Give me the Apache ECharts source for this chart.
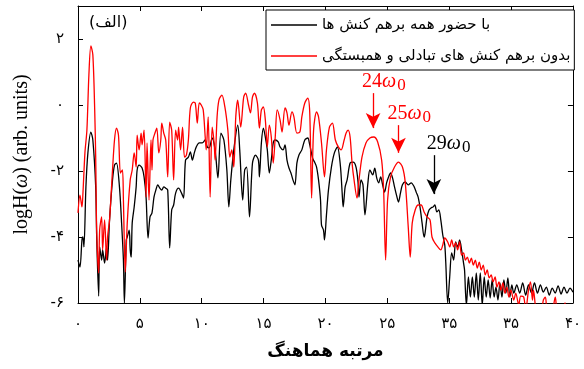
<!DOCTYPE html>
<html>
<head>
<meta charset="UTF-8">
<title></title>
<style>
html, body { margin: 0; padding: 0; background: #fff; }
#main { width: 584px; height: 369px; }
</style>
</head>
<body>
<div id="main"></div>
<script src="https://cdn.jsdelivr.net/npm/echarts@6/dist/echarts.min.js"></script>
<script>
// tick labels (Persian digits as in the figure)
var xTickLabels = ['۰', '۵', '۱۰', '۱۵', '۲۰', '۲۵', '۳۵', '۳۵', '۴۰'];
var yTickLabels = ['-۶', '-۴', '-۲', '۰', '۲'];
var legendNames = ['با حضور همه برهم کنش ها', 'بدون برهم کنش های تبادلی و همبستگی'];

// black curve: with all interactions
var blackData = [
  [0, -4.70], [0.16, -4.91], [0.32, -4.09], [0.40, -4.00], [0.48, -4.30], [0.64, -2.48], [0.80, -1.45],
  [1.04, -0.82], [1.20, -1.06], [1.43, -2.48], [1.51, -4.00], [1.67, -5.79], [1.75, -4.30], [1.91, -4.70],
  [1.99, -4.39], [2.15, -4.79], [2.31, -4.30], [2.39, -4.70], [2.55, -3.48], [2.79, -2.27], [2.95, -1.82],
  [3.11, -1.76], [3.35, -2.48], [3.51, -3.48], [3.67, -4.70], [3.75, -6.00], [3.90, -4.09], [3.98, -4.00],
  [4.14, -3.79], [4.22, -4.39], [4.30, -4.61], [4.38, -3.58], [4.54, -3.09], [4.70, -2.48], [4.78, -1.97],
  [4.94, -1.82], [5.18, -1.91], [5.34, -2.18], [5.50, -2.79], [5.66, -4.03], [5.82, -3.39], [5.98, -3.27],
  [6.14, -2.79], [6.29, -2.58], [6.45, -2.42], [6.61, -2.52], [6.77, -2.58], [6.93, -2.48], [7.09, -2.52],
  [7.25, -2.58], [7.41, -4.33], [7.57, -3.18], [7.73, -3.03], [7.89, -2.67], [8.13, -2.52], [8.37, -2.67],
  [8.53, -2.82], [8.69, -1.67], [8.92, -1.58], [9.08, -1.42], [9.24, -1.67], [9.40, -1.45], [9.56, -1.27],
  [9.80, -1.15], [10.04, -1.15], [10.28, -1.06], [10.44, -1.27], [10.60, -1.30], [10.84, -1.00], [11.08, -1.36],
  [11.31, -2.21], [11.55, -0.85], [11.79, -1.06], [12.03, -1.97], [12.19, -3.09], [12.35, -2.27], [12.59, -1.36],
  [12.91, -0.61], [13.07, -1.36], [13.31, -2.88], [13.47, -1.97], [13.63, -1.88], [13.86, -3.39], [14.10, -1.76],
  [14.34, -1.52], [14.58, -1.67], [14.66, -2.18], [14.82, -1.15], [14.98, -0.70], [15.14, -0.97], [15.30, -1.36],
  [15.46, -2.06], [15.62, -1.67], [15.78, -1.15], [15.94, -1.06], [16.18, -1.12], [16.33, -1.27], [16.57, -1.36],
  [16.73, -1.21], [16.89, -1.67], [17.05, -1.91], [17.21, -2.06], [17.37, -2.27], [17.53, -2.42], [17.69, -1.76],
  [17.85, -1.52], [18.09, -1.36], [18.33, -1.06], [18.57, -1.00], [18.73, -1.21], [18.96, -1.61], [19.12, -1.73],
  [19.28, -1.88], [19.44, -2.27], [19.60, -2.88], [19.68, -3.64], [19.84, -3.79], [19.92, -4.09], [20.08, -3.33],
  [20.24, -2.58], [20.48, -1.88], [20.72, -1.45], [20.96, -1.27], [21.20, -1.82], [21.35, -2.67], [21.43, -3.09],
  [21.59, -2.48], [21.75, -2.27], [21.99, -1.76], [22.23, -1.73], [22.47, -1.88], [22.63, -2.33], [22.71, -2.79],
  [22.87, -2.27], [23.03, -2.42], [23.19, -3.33], [23.43, -2.36], [23.59, -1.97], [23.82, -2.12], [23.98, -1.91],
  [24.14, -2.21], [24.30, -2.36], [24.46, -2.18], [24.62, -2.42], [24.78, -2.64], [24.94, -2.36], [25.10, -2.18],
  [25.26, -2.06], [25.42, -2.21], [25.58, -2.48], [25.74, -2.73], [25.90, -2.94], [26.06, -2.67], [26.22, -2.42],
  [26.45, -2.33], [26.69, -2.42], [26.93, -2.36], [27.17, -2.48], [27.33, -2.64], [27.49, -2.79], [27.65, -3.12],
  [27.81, -3.58], [27.97, -4.00], [28.05, -3.88], [28.21, -3.39], [28.37, -3.18], [28.53, -3.12], [28.69, -3.09],
  [28.84, -3.03], [29.00, -3.24], [29.16, -3.18], [29.32, -3.48], [29.48, -3.94], [29.64, -4.24], [29.72, -4.76],
  [29.88, -6.00], [30.04, -5.21], [30.20, -4.48], [30.36, -4.70], [30.52, -4.15], [30.68, -4.30], [30.84, -4.09],
  [31.00, -4.39], [31.16, -4.79], [31.24, -5.00], [31.31, -5.61], [31.39, -6.06], [31.55, -5.21], [31.71, -5.82],
  [31.87, -5.21], [32.03, -5.82], [32.19, -5.09], [32.35, -5.91], [32.51, -5.09], [32.67, -6.06], [32.83, -5.21],
  [32.99, -5.82], [33.15, -5.30], [33.31, -5.85], [33.47, -5.30], [33.63, -5.82], [33.78, -5.52], [33.94, -5.91],
  [34.10, -5.39], [34.26, -5.82], [34.42, -5.30], [34.58, -5.70], [34.74, -5.24], [34.90, -5.82], [35.06, -5.45],
  [35.22, -5.70], [35.46, -5.45], [35.70, -5.70], [35.94, -5.39], [36.18, -5.76], [36.41, -5.45], [36.65, -5.70],
  [36.89, -5.39], [37.13, -5.70], [37.37, -5.45], [37.61, -5.67], [37.85, -5.52], [38.09, -5.76], [38.33, -5.55],
  [38.57, -5.70], [38.80, -5.48], [39.04, -5.73], [39.28, -5.52], [39.52, -5.70], [39.76, -5.55], [40.00, -5.67]
];

// red curve: without exchange and correlation interactions
var redData = [
  [0, -3.27], [0.16, -2.73], [0.32, -3.09], [0.40, -2.67], [0.56, -1.45], [0.72, -0.76], [0.88, 0.91],
  [1.04, 1.79], [1.20, 1.52], [1.35, -0.15], [1.43, -1.58], [1.51, -3.79], [1.67, -5.09], [1.75, -3.79],
  [1.91, -3.39], [1.99, -4.39], [2.15, -3.48], [2.31, -4.70], [2.39, -4.00], [2.55, -3.48], [2.79, -1.97],
  [2.95, -1.06], [3.11, -0.70], [3.27, -0.91], [3.43, -2.06], [3.59, -1.97], [3.67, -2.88], [3.82, -5.06],
  [3.98, -3.58], [4.22, -2.27], [4.38, -1.97], [4.54, -1.45], [4.70, -1.88], [4.78, -0.91], [4.94, -1.36],
  [5.10, -0.85], [5.18, -1.21], [5.34, -0.76], [5.50, -2.79], [5.58, -1.15], [5.74, -2.88], [5.90, -1.06],
  [5.98, -1.97], [6.06, -1.06], [6.22, -0.85], [6.37, -0.70], [6.53, -1.45], [6.69, -1.06], [6.77, -0.55],
  [6.93, -0.85], [7.09, -1.06], [7.25, -2.18], [7.41, -0.52], [7.57, -0.76], [7.73, -2.27], [7.89, -0.76],
  [8.05, -1.06], [8.13, -0.67], [8.29, -1.36], [8.45, -0.67], [8.61, -1.58], [8.76, -1.52], [8.92, -1.06],
  [9.08, -0.09], [9.32, 0.09], [9.48, 0.06], [9.64, -0.55], [9.80, 0.06], [9.96, 0.00], [10.12, -0.15],
  [10.28, -0.97], [10.36, -1.36], [10.52, -0.36], [10.68, -2.79], [10.84, -0.67], [11.00, -1.15], [11.08, -1.67],
  [11.24, -0.36], [11.39, 0.15], [11.63, 0.30], [11.87, -0.06], [12.11, -0.76], [12.27, -1.58], [12.43, -1.36],
  [12.59, -1.88], [12.75, -0.36], [12.91, 0.15], [13.15, -0.67], [13.39, 0.24], [13.55, 0.36], [13.78, 0.00],
  [13.94, -0.24], [14.10, 0.24], [14.26, 0.36], [14.50, 0.06], [14.66, -0.70], [14.82, -0.15], [14.98, -0.06],
  [15.14, -0.45], [15.30, -1.27], [15.46, -0.61], [15.62, -0.97], [15.78, -1.76], [15.94, -0.97], [16.10, -0.15],
  [16.33, -0.45], [16.49, -0.82], [16.73, -0.09], [16.89, -0.24], [17.05, -0.61], [17.29, -0.21], [17.45, -0.36],
  [17.69, -0.85], [17.93, -0.82], [18.09, -0.36], [18.33, 0.06], [18.57, 0.21], [18.73, -0.24], [18.88, -2.82],
  [19.04, -0.76], [19.28, -0.21], [19.44, -0.36], [19.68, -1.15], [19.92, -2.18], [20.08, -1.36], [20.32, -0.67],
  [20.56, -0.55], [20.80, -1.06], [21.04, -1.27], [21.27, -1.36], [21.51, -1.06], [21.67, -0.85], [21.83, -0.76],
  [21.99, -0.97], [22.15, -1.76], [22.31, -2.27], [22.55, -2.82], [22.71, -2.27], [22.95, -1.58], [23.27, -1.15],
  [23.59, -1.00], [23.90, -0.97], [24.22, -1.12], [24.54, -1.67], [24.70, -2.58], [24.86, -4.70], [25.02, -2.88],
  [25.26, -2.18], [25.58, -1.88], [25.90, -1.73], [26.22, -1.88], [26.45, -2.36], [26.69, -3.70], [26.85, -4.61],
  [27.01, -3.58], [27.25, -3.18], [27.49, -3.03], [27.73, -3.03], [27.97, -3.24], [28.21, -3.39], [28.45, -3.48],
  [28.61, -4.00], [28.84, -4.18], [29.08, -4.30], [29.32, -4.39], [29.48, -4.24], [29.64, -4.03], [29.88, -4.15],
  [30.04, -4.30], [30.20, -4.09], [30.36, -4.30], [30.52, -4.18], [30.68, -4.39], [30.84, -4.15], [31.00, -4.55],
  [31.16, -4.48], [31.31, -4.70], [31.47, -4.61], [31.63, -4.79], [31.79, -4.64], [31.95, -4.85], [32.11, -4.70],
  [32.27, -4.94], [32.43, -4.76], [32.59, -5.00], [32.75, -4.85], [32.91, -5.15], [33.07, -5.00], [33.23, -5.24],
  [33.39, -5.15], [33.55, -5.36], [33.71, -5.21], [33.86, -5.52], [34.02, -5.36], [34.18, -5.61], [34.34, -5.39],
  [34.50, -5.70], [34.66, -5.52], [34.82, -5.82], [34.98, -5.61], [35.22, -5.91], [35.38, -5.70], [35.62, -6.06],
  [35.78, -5.79], [36.02, -5.82], [36.18, -6.21], [36.41, -5.61], [36.57, -5.36], [36.73, -5.91], [36.81, -5.61],
  [37.05, -6.27], [37.37, -6.36], [37.61, -5.91], [37.77, -5.82], [37.93, -6.27], [38.25, -6.36], [38.57, -5.82],
  [38.73, -6.27], [39.04, -6.36], [39.36, -6.00], [39.60, -6.36], [40.00, -6.21]
];

// harmonic annotations: label, x, arrow start y, arrow tip y
var harmonics = [
  { n: '24', x: 23.85, y0: 0.36, y1: -0.70, color: '#ff0000' },
  { n: '25', x: 25.90, y0: -0.61, y1: -1.45, color: '#ff0000' },
  { n: '29', x: 28.76, y0: -1.52, y1: -2.70, color: '#000000' }
];

function arrowLines(color) {
  var out = [];
  harmonics.forEach(function (h) {
    if (h.color === color) {
      out.push([{ coord: [h.x, h.y0] }, { coord: [h.x, h.y1] }]);
    }
  });
  return {
    silent: true,
    animation: false,
    symbol: ['none', 'arrow'],
    symbolSize: [11, 15],
    lineStyle: { color: color, width: 1.3, type: 'solid' },
    label: { show: false },
    emphasis: { disabled: true },
    data: out
  };
}

var myChart = echarts.init(document.getElementById('main'));
var faFont = 'DejaVu Sans';
var serif = 'Liberation Serif';
var lineIcon = 'path://M0,0 L46,0 L46,1.3 L0,1.3 Z';

var option = {
  animation: false,
  backgroundColor: '#fff',
  grid: { left: 78, right: 4, top: 6, bottom: 66, show: false },
  legend: {
    data: [{ name: legendNames[0], icon: lineIcon }, { name: legendNames[1], icon: lineIcon }],
    orient: 'vertical',
    left: 266,
    top: 10,
    padding: [6, 4, 5, 5],
    itemGap: 13,
    itemWidth: 46,
    itemHeight: 18,
    borderColor: '#000',
    borderWidth: 1,
    backgroundColor: '#fff',
    textStyle: { fontFamily: faFont, fontSize: 15, color: '#000', lineHeight: 18 },
    selectedMode: false
  },
  xAxis: [{
    type: 'value',
    min: 0,
    max: 40,
    interval: 5,
    name: 'مرتبه هماهنگ',
    nameLocation: 'middle',
    nameGap: 40,
    nameTextStyle: { fontFamily: faFont, fontSize: 17, fontWeight: 'bold', color: '#000' },
    axisLine: { onZero: false, lineStyle: { color: '#000', width: 1 } },
    axisTick: { inside: true, length: 5, lineStyle: { color: '#000' } },
    axisLabel: {
      margin: 14,
      fontFamily: faFont,
      fontSize: 15,
      color: '#000',
      formatter: function (v) { return xTickLabels[v / 5]; }
    },
    splitLine: { show: false }
  }, {
    type: 'value',
    position: 'top',
    min: 0,
    max: 40,
    interval: 5,
    axisLine: { onZero: false, lineStyle: { color: '#000', width: 1 } },
    axisTick: { inside: true, length: 5, lineStyle: { color: '#000' } },
    axisLabel: { show: false },
    splitLine: { show: false }
  }],
  yAxis: [{
    type: 'value',
    min: -6,
    max: 3,
    interval: 2,
    name: '{a|logH(}{b|ω}{a|) (arb. units)}',
    nameLocation: 'middle',
    nameRotate: 90,
    nameGap: 46,
    nameTextStyle: {
      color: '#000',
      rich: {
        a: { fontFamily: serif, fontSize: 20, color: '#000' },
        b: { fontFamily: serif, fontSize: 20, fontStyle: 'italic', color: '#000' }
      }
    },
    axisLine: { onZero: false, lineStyle: { color: '#000', width: 1 } },
    axisTick: { inside: true, length: 5, lineStyle: { color: '#000' } },
    axisLabel: {
      margin: 14,
      fontFamily: faFont,
      fontSize: 15,
      color: '#000',
      formatter: function (v) { return yTickLabels[(v + 6) / 2] || ''; }
    },
    splitLine: { show: false }
  }, {
    type: 'value',
    position: 'right',
    min: -6,
    max: 3,
    interval: 2,
    axisLine: { onZero: false, lineStyle: { color: '#000', width: 1 } },
    axisTick: { inside: true, length: 5, lineStyle: { color: '#000' } },
    axisLabel: { show: false },
    splitLine: { show: false }
  }],
  series: [{
    name: legendNames[0],
    type: 'line',
    data: blackData,
    symbol: 'none',
    smooth: 0.3,
    lineStyle: { color: '#000', width: 1.3 },
    itemStyle: { color: '#000' },
    markLine: arrowLines('#000000'),
    z: 2
  }, {
    name: legendNames[1],
    type: 'line',
    data: redData,
    symbol: 'none',
    smooth: 0.3,
    lineStyle: { color: '#ff0000', width: 1.3 },
    itemStyle: { color: '#ff0000' },
    markLine: arrowLines('#ff0000'),
    z: 3
  }]
};
myChart.setOption(option);

// text labels (panel tag and harmonic orders), placed through the axes
var graphics = [{
  type: 'text',
  left: 89,
  top: 15,
  style: { text: '(الف)', fontFamily: faFont, fontSize: 16, fill: '#000' }
}];
harmonics.forEach(function (h) {
  var p = myChart.convertToPixel({ xAxisIndex: 0, yAxisIndex: 0 }, [h.x, h.y0]);
  var dx = h.n === '29' ? -7 : -11;
  graphics.push({
    type: 'text',
    x: p[0] + dx,
    y: p[1] - 21,
    silent: true,
    style: {
      text: '{n|' + h.n + '}{w|ω}{s|0}',
      fill: h.color,
      rich: {
        n: { fontFamily: serif, fontSize: 20, lineHeight: 22, verticalAlign: 'top', fill: h.color },
        w: { fontFamily: serif, fontSize: 20, fontStyle: 'italic', lineHeight: 22, verticalAlign: 'top', fill: h.color },
        s: { fontFamily: serif, fontSize: 17, lineHeight: 22, padding: [14, 0, 0, 1], verticalAlign: 'bottom', fill: h.color }
      }
    }
  });
});
myChart.setOption({ graphic: graphics });
</script>
</body>
</html>
